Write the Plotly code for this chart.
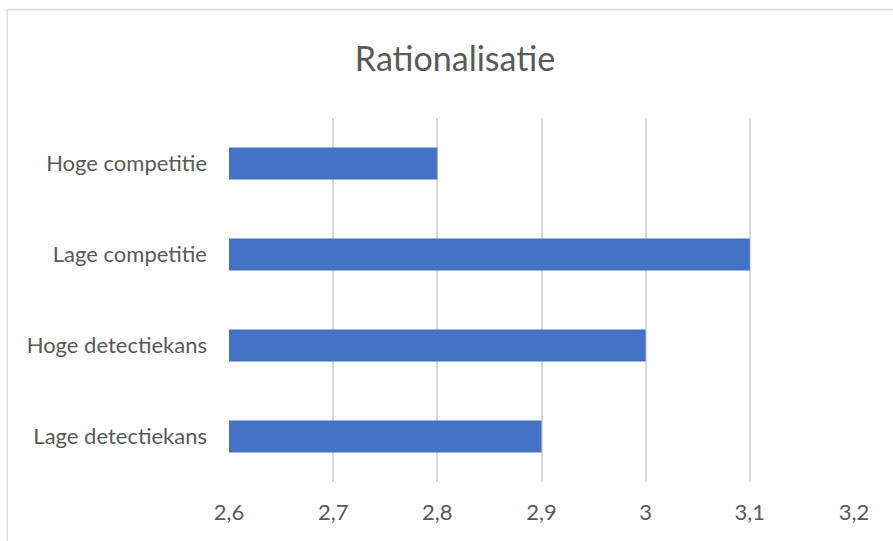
import plotly.graph_objects as go

# Rationalisatie scores per condition (top to bottom)
categories = ["Hoge competitie", "Lage competitie", "Hoge detectiekans", "Lage detectiekans"]
values = [2.8, 3.1, 3.0, 2.9]
tick_values = [2.6, 2.7, 2.8, 2.9, 3.0, 3.1, 3.2]

W, H = 893, 541
ml, mr, mt, mb = 228.5, 39, 118, 59
pw, ph = W - ml - mr, H - mt - mb

TEXT = "#595959"
FONT = "Lato"

fig = go.Figure(
    go.Bar(
        x=values,
        y=categories,
        orientation="h",
        marker=dict(color="#4472C4", line=dict(width=0)),
        hoverinfo="x+y",
    )
)


def px_to_paper_x(px):
    return (px - ml) / pw


def px_to_paper_y(py):
    return 1 - (py - mt) / ph


# chart frame around the whole figure
fig.add_shape(
    type="rect",
    xref="paper", yref="paper",
    x0=px_to_paper_x(6.5), x1=px_to_paper_x(W + 20),
    y0=px_to_paper_y(H + 20), y1=px_to_paper_y(9.5),
    line=dict(color="#d9d9d9", width=1.3),
    fillcolor="rgba(0,0,0,0)",
    layer="below",
)

fig.update_layout(
    width=W, height=H,
    margin=dict(l=ml, r=mr, t=mt, b=mb, pad=0),
    paper_bgcolor="white",
    plot_bgcolor="white",
    separators=", ",
    bargap=0.65,
    showlegend=False,
    title=dict(
        text="Rationalisatie",
        font=dict(family=FONT, size=34, color=TEXT),
        x=455 / W,
        xanchor="center",
        y=1 - 59 / H,
        yanchor="middle",
        xref="container",
        yref="container",
    ),
    xaxis=dict(
        range=[2.6, 3.2],
        tickvals=tick_values,
        showgrid=True,
        gridcolor="#d9d9d9",
        gridwidth=1.5,
        zeroline=False,
        showline=False,
        ticks="",
        ticklabelstandoff=15,
        tickfont=dict(family=FONT, size=22, color=TEXT),
        fixedrange=True,
    ),
    yaxis=dict(
        autorange="reversed",
        showgrid=False,
        zeroline=False,
        showline=False,
        ticks="",
        ticklabelstandoff=21,
        tickfont=dict(family=FONT, size=22, color=TEXT),
        fixedrange=True,
    ),
)

fig.write_html("out.html")
